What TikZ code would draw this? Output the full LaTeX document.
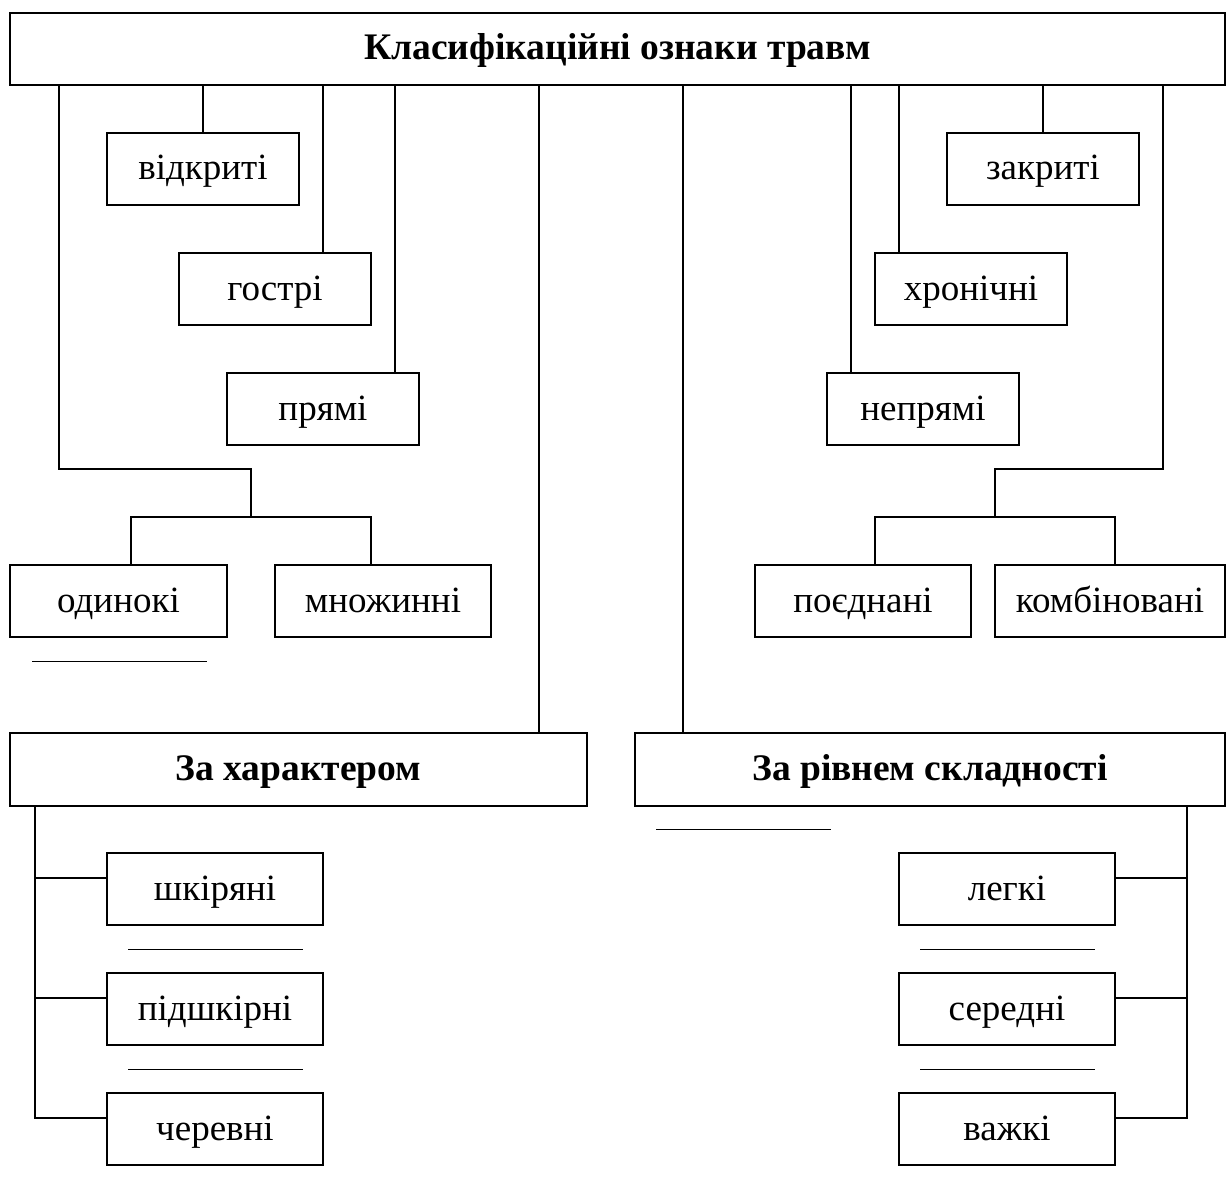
\documentclass[tikz,border=0pt]{standalone}
\usepackage{fontspec}
\setmainfont{Liberation Serif}
\begin{document}
\begin{tikzpicture}[x=1pt,y=-1pt,
  box/.style={draw,line width=1.5pt,rectangle,inner sep=0pt,text height=30.5pt,text depth=8.5pt,font=\fontsize{37}{44}\selectfont},
  bbox/.style={box,font=\fontsize{37.5}{44}\selectfont\bfseries},
  conn/.style={line width=1.5pt},
  thin/.style={line width=0.9pt}]
\useasboundingbox (0,0) rectangle (1226,1185);
% main box
\node[bbox,minimum width=1215pt,minimum height=72pt] (top) at (617.5,49) {Класифікаційні ознаки травм};
% upper left
\node[box,minimum width=192pt,minimum height=72pt] (vidkr) at (203,169) {відкриті};
\node[box,minimum width=192pt,minimum height=72pt] (gostri) at (275,289) {гострі};
\node[box,minimum width=192pt,minimum height=72pt] (pryami) at (323,409) {прямі};
% upper right
\node[box,minimum width=192pt,minimum height=72pt] (zakr) at (1043,169) {закриті};
\node[box,minimum width=192pt,minimum height=72pt] (hron) at (971,289) {хронічні};
\node[box,minimum width=192pt,minimum height=72pt] (nepryami) at (923,409) {непрямі};
% row
\node[box,minimum width=217pt,minimum height=72pt] (odyn) at (118.5,601) {одинокі};
\node[box,minimum width=216pt,minimum height=72pt] (mnozh) at (383,601) {множинні};
\node[box,minimum width=216pt,minimum height=72pt] (poedn) at (863,601) {поєднані};
\node[box,minimum width=230pt,minimum height=72pt] (komb) at (1110,601) {комбіновані};
% second level
\node[bbox,minimum width=577pt,minimum height=73pt] (harakt) at (298.5,769.5) {За характером};
\node[bbox,minimum width=590pt,minimum height=73pt] (rivnem) at (930,769.5) {За рівнем складності};
% lower left
\node[box,minimum width=216pt,minimum height=72pt] (shkir) at (215,889) {шкіряні};
\node[box,minimum width=216pt,minimum height=72pt] (pidsh) at (215,1009) {підшкірні};
\node[box,minimum width=216pt,minimum height=72pt] (cherev) at (215,1129) {черевні};
% lower right
\node[box,minimum width=216pt,minimum height=72pt] (legki) at (1007,889) {легкі};
\node[box,minimum width=216pt,minimum height=72pt] (seredni) at (1007,1009) {середні};
\node[box,minimum width=216pt,minimum height=72pt] (vazhki) at (1007,1129) {важкі};
% helper coordinates
\coordinate (xa) at (59,0);
\coordinate (xb) at (323,0);
\coordinate (xc) at (395,0);
\coordinate (xd) at (539,0);
\coordinate (xe) at (683,0);
\coordinate (xf) at (851,0);
\coordinate (xg) at (899,0);
\coordinate (xh) at (1163,0);
\coordinate (la1) at (59,469);
\coordinate (la2) at (251,469);
\coordinate (la3) at (251,517);
\coordinate (ll) at (131,517);
\coordinate (lr) at (371,517);
\coordinate (ra1) at (1163,469);
\coordinate (ra2) at (995,469);
\coordinate (ra3) at (995,517);
\coordinate (rl) at (875,517);
\coordinate (rr) at (1115,517);
\coordinate (vl) at (35,0);
\coordinate (vr) at (1187,0);
\coordinate (b1) at (0,878);
\coordinate (b2) at (0,998);
\coordinate (b3) at (0,1118);
% connectors upper
\draw[conn] (top.south -| vidkr.north) -- (vidkr.north);
\draw[conn] (xb |- top.south) -- (xb |- gostri.north);
\draw[conn] (xc |- top.south) -- (xc |- pryami.north);
\draw[conn] (top.south -| zakr.north) -- (zakr.north);
\draw[conn] (xg |- top.south) -- (xg |- hron.north);
\draw[conn] (xf |- top.south) -- (xf |- nepryami.north);
\draw[conn] (xd |- top.south) -- (xd |- harakt.north);
\draw[conn] (xe |- top.south) -- (xe |- rivnem.north);
\draw[conn] (xa |- top.south) -- (la1) -- (la2) -- (la3);
\draw[conn] (ll |- odyn.north) -- (ll) -- (lr) -- (lr |- mnozh.north);
\draw[conn] (xh |- top.south) -- (ra1) -- (ra2) -- (ra3);
\draw[conn] (rl |- poedn.north) -- (rl) -- (rr) -- (rr |- komb.north);
% connectors lower
\draw[conn] (vl |- harakt.south) -- (vl |- b3) -- (b3 -| cherev.west);
\draw[conn] (vl |- b1) -- (b1 -| shkir.west);
\draw[conn] (vl |- b2) -- (b2 -| pidsh.west);
\draw[conn] (vr |- rivnem.south) -- (vr |- b3) -- (b3 -| vazhki.east);
\draw[conn] (vr |- b1) -- (b1 -| legki.east);
\draw[conn] (vr |- b2) -- (b2 -| seredni.east);
% thin blank lines
\coordinate (t1a) at (32,661); \coordinate (t1b) at (207,661);
\coordinate (t2a) at (656,829); \coordinate (t2b) at (831,829);
\coordinate (t3a) at (128,949); \coordinate (t3b) at (303,949);
\coordinate (t4a) at (128,1069); \coordinate (t4b) at (303,1069);
\coordinate (t5a) at (920,949); \coordinate (t5b) at (1095,949);
\coordinate (t6a) at (920,1069); \coordinate (t6b) at (1095,1069);
\draw[thin] (t1a) -- (t1b);
\draw[thin] (t2a) -- (t2b);
\draw[thin] (t3a) -- (t3b);
\draw[thin] (t4a) -- (t4b);
\draw[thin] (t5a) -- (t5b);
\draw[thin] (t6a) -- (t6b);
\end{tikzpicture}
\end{document}
